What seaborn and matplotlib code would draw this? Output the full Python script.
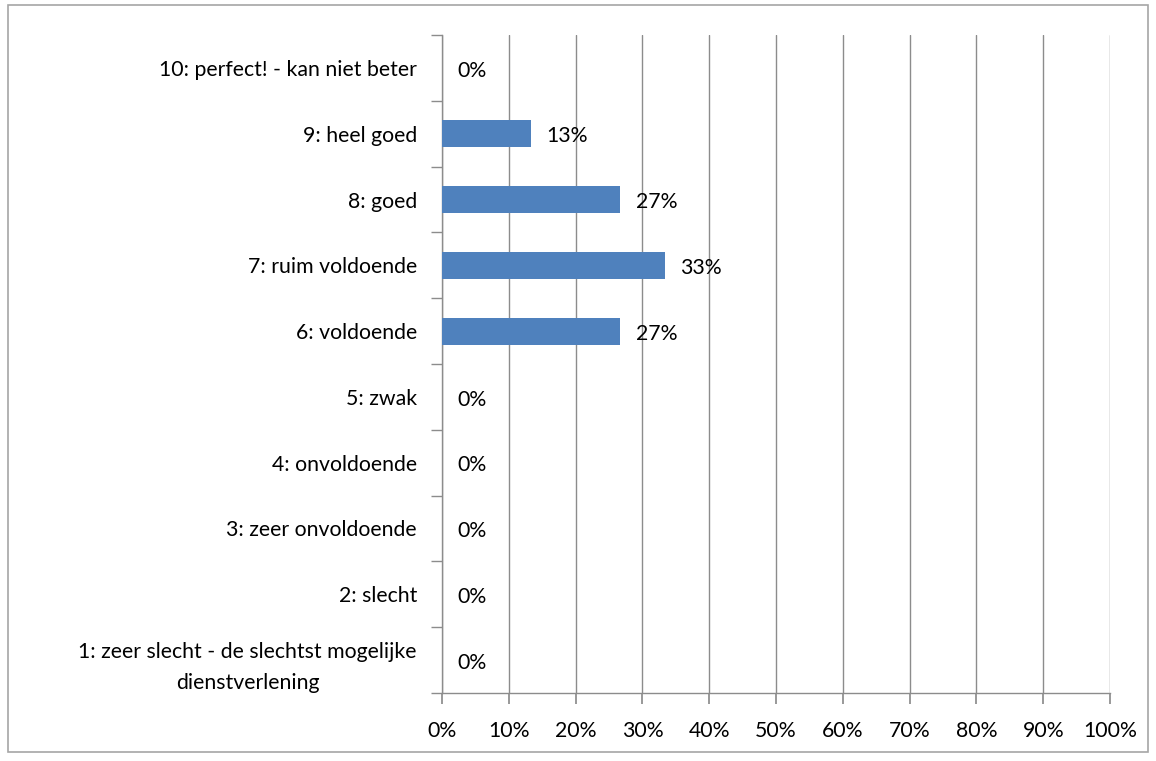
import matplotlib
matplotlib.use("Agg")
import matplotlib.pyplot as plt
import seaborn as sns
import pandas as pd
from matplotlib.patches import Rectangle

categories = [
    "10: perfect! - kan niet beter",
    "9: heel goed",
    "8: goed",
    "7: ruim voldoende",
    "6: voldoende",
    "5: zwak",
    "4: onvoldoende",
    "3: zeer onvoldoende",
    "2: slecht",
    "1: zeer slecht - de slechtst mogelijke\ndienstverlening",
]
values = [0.0, 13.33, 26.67, 33.33, 26.67, 0.0, 0.0, 0.0, 0.0, 0.0]
labels = ["0%", "13%", "27%", "33%", "27%", "0%", "0%", "0%", "0%", "0%"]
xticks = list(range(0, 101, 10))

sns.set_theme(style="white")
plt.rcParams["font.family"] = ["Lato", "DejaVu Sans"]

FS = 15.3
df = pd.DataFrame({"cat": categories, "val": values})

fig = plt.figure(figsize=(11.56, 7.61), dpi=100)
ax = fig.add_axes([442/1156, 1 - 693/761, (1110-442)/1156, (693-35)/761])

sns.barplot(data=df, x="val", y="cat", orient="h", color="#4F81BD",
            saturation=1, width=0.41, ax=ax, zorder=3, linewidth=0)

for i, (v, lab) in enumerate(zip(values, labels)):
    ax.text(v + 2.3, i + 0.04, lab, va="center", ha="left", fontsize=FS, color="black", zorder=4)

ax.set_xlim(0, 100)
ax.set_ylim(9.5, -0.5)
ax.set_xticks(xticks)
ax.set_xticklabels([f"{t}%" for t in xticks], fontsize=FS)
ax.set_yticks(range(len(categories)))
ax.set_yticklabels(categories, fontsize=FS, multialignment="center", linespacing=1.7)
ax.set_xlabel("")
ax.set_ylabel("")

ax.grid(axis="x", color="#8C8C8C", linewidth=1, zorder=0)
ax.grid(axis="y", visible=False)
for s in ["top", "right"]:
    ax.spines[s].set_visible(False)
for s in ["left", "bottom"]:
    ax.spines[s].set_color("#8C8C8C")
    ax.spines[s].set_linewidth(1)

ax.tick_params(axis="y", length=0, pad=18)
ax.tick_params(axis="x", length=8, color="#8C8C8C", direction="out", bottom=True, pad=12)
ax.set_yticks([i - 0.5 for i in range(len(categories) + 1)], minor=True)
ax.tick_params(axis="y", which="minor", length=8, color="#8C8C8C", direction="out", left=True)

for t in ax.get_yticklabels():
    t.set_color("black")
for t in ax.get_xticklabels():
    t.set_color("black")

fig.patches.append(Rectangle((8/1156, 1 - 752/761), (1148-8)/1156, (752-5)/761,
                             transform=fig.transFigure, fill=False,
                             edgecolor="#A6A6A6", linewidth=1.2))

fig.savefig("out.png", dpi=100, facecolor="white")
